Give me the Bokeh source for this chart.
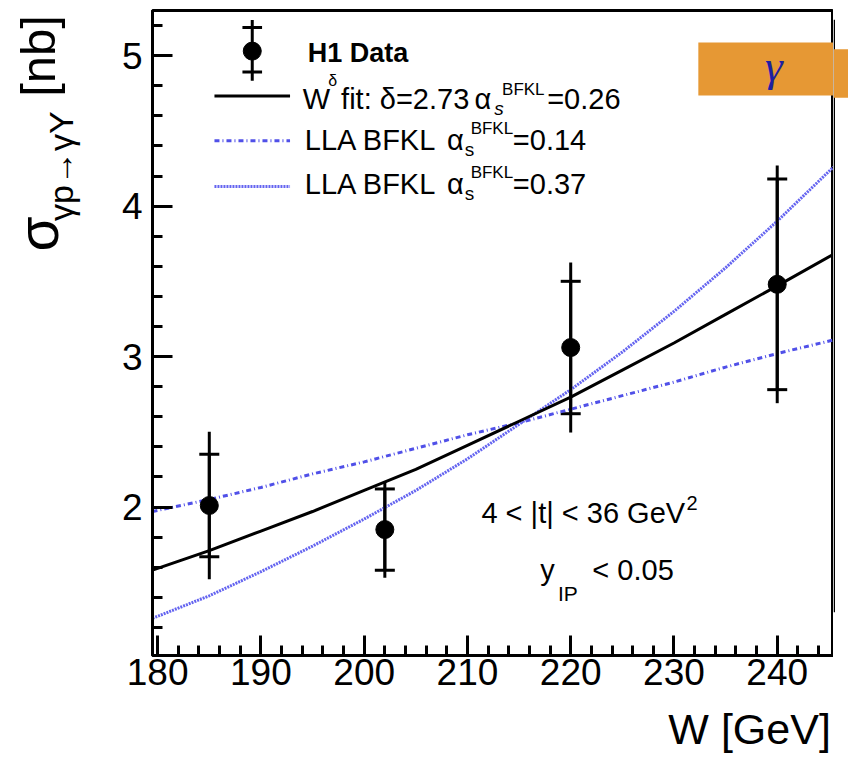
from math import pi
from bokeh.plotting import figure
from bokeh.layouts import row, column
from bokeh.models import (ColumnDataSource, Whisker, TeeHead, Label, BoxAnnotation,
                          SingleIntervalTicker, Range1d)
from bokeh.embed import file_html
from bokeh.resources import INLINE

# ---------------- data ----------------
W = [185, 202, 220, 240]
SIGMA = [2.01, 1.85, 3.06, 3.48]
STAT = [0.34, 0.27, 0.44, 0.70]
TOTAL = [0.49, 0.32, 0.565, 0.79]

CURVE_W = [179.5, 185, 190, 195, 200, 205, 210, 215, 220, 225, 230, 235, 240, 245.45]
FIT = [1.58, 1.71, 1.84, 1.97, 2.11, 2.25, 2.41, 2.57, 2.73, 2.91, 3.09, 3.28, 3.47, 3.68]
BFKL_014 = [1.97, 2.05, 2.13, 2.22, 2.30, 2.39, 2.48, 2.56, 2.65, 2.74, 2.83, 2.93, 3.02, 3.11]
BFKL_037 = [1.26, 1.41, 1.57, 1.74, 1.92, 2.11, 2.32, 2.55, 2.78, 3.03, 3.30, 3.59, 3.90, 4.26]

X_TICK_INTERVAL = 10
Y_TICK_INTERVAL = 1

# ---------------- layout ----------------
TOT_W, TOT_H = 848, 753
SX, SY = TOT_W / 864.0, TOT_H / 769.0      # reference-pixel -> page-pixel scale
LW = 88                                     # left strip (y title)
RW = 15                                     # right strip (tag overhang)
MW, MH = TOT_W - LW - RW, 702               # main figure
BH = TOT_H - MH                             # bottom strip (x title)
BL, BR, BT, BB = 152 - LW, 0, 10, 47
FL, FR, FT, FB = LW + BL, LW + MW - BR, BT, MH - BB
K_BASE = 0.33                               # baseline correction (fraction of font size)

X0, X1 = 179.5, 245.45
Y0, Y1 = 1.013, 5.30


def X(rx):
    return X0 + (rx * SX - FL) * (X1 - X0) / (FR - FL)


def Y(ry):
    return Y1 - (ry * SY - FT) * (Y1 - Y0) / (FB - FT)


def fs(size):
    return f"{round(size * SX)}px"


FONT = "Liberation Sans"
BLUE = "#5050e8"
BLUE2 = "#6464f0"
ORANGE = "#e69834"
DASHDOT = "5 3 1 3"
DOTTED = "2 1"

p = figure(width=MW, height=MH, x_range=Range1d(X0, X1), y_range=Range1d(Y0, Y1),
           output_backend="svg", toolbar_location=None,
           min_border_left=BL, min_border_right=BR, min_border_top=BT, min_border_bottom=BB)
p.xgrid.visible = False
p.ygrid.visible = False
p.outline_line_color = "black"
p.outline_line_width = 3
p.outline_line_alpha = 1.0
p.background_fill_color = "white"
p.border_fill_color = "white"

p.xaxis.ticker = SingleIntervalTicker(interval=X_TICK_INTERVAL, num_minor_ticks=5)
p.yaxis.ticker = SingleIntervalTicker(interval=Y_TICK_INTERVAL, num_minor_ticks=5)
for ax in (p.xaxis[0], p.yaxis[0]):
    ax.axis_line_width = 3
    ax.axis_line_color = "black"
    ax.major_tick_in = 20
    ax.major_tick_out = 0
    ax.minor_tick_in = 10
    ax.minor_tick_out = 0
    ax.major_tick_line_width = 3
    ax.minor_tick_line_width = 3
    ax.major_tick_line_color = "black"
    ax.minor_tick_line_color = "black"
    ax.major_label_text_font = FONT
    ax.major_label_text_font_size = fs(38)
    ax.major_label_text_color = "black"
p.xaxis.major_label_standoff = 3
p.yaxis.major_label_standoff = 10

# ---------------- curves ----------------
p.line(CURVE_W, BFKL_014, line_color=BLUE, line_width=3, line_dash=DASHDOT)
p.line(CURVE_W, BFKL_037, line_color=BLUE2, line_width=3, line_dash=DOTTED)
p.line(CURVE_W, FIT, line_color="black", line_width=3)

# ---------------- data points ----------------
src = ColumnDataSource(dict(
    w=W, s=SIGMA,
    tlo=[s - e for s, e in zip(SIGMA, TOTAL)], thi=[s + e for s, e in zip(SIGMA, TOTAL)],
    slo=[s - e for s, e in zip(SIGMA, STAT)], shi=[s + e for s, e in zip(SIGMA, STAT)],
))
p.segment(x0="w", y0="tlo", x1="w", y1="thi", source=src, line_color="black", line_width=3)
p.add_layout(Whisker(base="w", lower="slo", upper="shi", source=src, dimension="height",
                     line_color="black", line_width=3,
                     lower_head=TeeHead(size=20, line_width=3, line_color="black"),
                     upper_head=TeeHead(size=20, line_width=3, line_color="black")))
p.scatter(x="w", y="s", source=src, size=18, color="black")


# ---------------- text helper (reference pixel coords, rx/ry = baseline start) ----------------
def txt(fig, xf, yf, rx, ry, s, size, font=FONT, style="normal", color="black", align="left",
        angle=0.0, level="annotation"):
    if angle:
        rx = rx - K_BASE * size
    else:
        ry = ry - K_BASE * size
    fig.add_layout(Label(x=xf(rx), y=yf(ry), text=s, text_font=font, text_font_size=fs(size),
                         text_font_style=style, text_color=color, text_align=align,
                         text_baseline="alphabetic", angle=angle, level=level))


def mtxt(rx, ry, s, size, **kw):
    txt(p, X, Y, rx, ry, s, size, **kw)


# ---------------- legend ----------------
LEG_SX0, LEG_SX1, LEG_SXC = 218, 295, 256.5
ROWS = [51.7, 97.5, 143.3, 190.0]
p.segment(x0=[X(LEG_SXC)], y0=[Y(20)], x1=[X(LEG_SXC)], y1=[Y(82)], line_color="black", line_width=3)
p.segment(x0=[X(LEG_SXC - 10)] * 2, y0=[Y(27.5), Y(73)], x1=[X(LEG_SXC + 10)] * 2,
          y1=[Y(27.5), Y(73)], line_color="black", line_width=3)
p.scatter([X(LEG_SXC)], [Y(ROWS[0])], size=18, color="black")
p.segment(x0=[X(LEG_SX0)], y0=[Y(ROWS[1])], x1=[X(LEG_SX1)], y1=[Y(ROWS[1])],
          line_color="black", line_width=3)
p.segment(x0=[X(LEG_SX0)], y0=[Y(ROWS[2])], x1=[X(LEG_SX1)], y1=[Y(ROWS[2])], line_color=BLUE,
          line_width=3, line_dash=DASHDOT)
p.segment(x0=[X(LEG_SX0)], y0=[Y(ROWS[3])], x1=[X(LEG_SX1)], y1=[Y(ROWS[3])], line_color=BLUE2,
          line_width=3, line_dash=DOTTED)

mtxt(313, 63, "H1 Data", 28, style="bold")
# row 2
mtxt(308, 110, "W", 30)
mtxt(334, 87, "δ", 16)
mtxt(347, 110, "fit: δ=2.73", 30)
mtxt(483, 110, "α", 30)
mtxt(511, 97, "BFKL", 17)
mtxt(503, 117, "s", 19, style="italic")
mtxt(557, 110, "=0.26", 30)
# rows 3, 4
for base, val in ((152, "=0.14"), (197, "=0.37")):
    mtxt(310, base, "LLA BFKL", 30)
    mtxt(455, base, "α", 30)
    mtxt(479, base - 16, "BFKL", 17)
    mtxt(473, base + 6, "s", 19)
    mtxt(522, base, val, 30)

# ---------------- annotations ----------------
mtxt(490, 533, "4 < |t| < 36 GeV", 30)
mtxt(699, 520, "2", 20)
mtxt(550, 592, "y", 30)
mtxt(568, 613, "IP", 21)
mtxt(603, 592, "< 0.05", 30)

# ---------------- orange tag ----------------
TAG_TOP, TAG_BOTTOM, TAG_LEFT = 43, 97, 711
p.add_layout(BoxAnnotation(left=X(TAG_LEFT), right=X(880), top=Y(TAG_TOP), bottom=Y(TAG_BOTTOM),
                           fill_color=ORANGE, fill_alpha=1.0, line_color=None, level="overlay"))
mtxt(788, 82, "γ", 46, font="Liberation Serif", style="italic", color="#1f1fa0",
     align="center", level="overlay")


# ---------------- strips for axis titles ----------------
def strip(w, h):
    f = figure(width=w, height=h, x_range=Range1d(0, w), y_range=Range1d(0, h),
               min_border_left=0, min_border_right=0, min_border_top=0, min_border_bottom=0,
               x_axis_location=None, y_axis_location=None, toolbar_location=None,
               output_backend="svg")
    f.grid.visible = False
    f.outline_line_color = None
    f.background_fill_color = "white"
    f.border_fill_color = "white"
    return f


left = strip(LW, MH)
right = strip(RW, MH)
bottom = strip(TOT_W, BH)


def LXf(rx):
    return rx * SX


def LYf(ry):
    return MH - ry * SY


def BXf(rx):
    return rx * SX


def BYf(ry):
    return BH - (ry * SY - MH)


txt(left, LXf, LYf, 57, 268, "σ", 58, angle=pi / 2)
txt(left, LXf, LYf, 73, 234, "γp→γY", 35, angle=pi / 2)
txt(left, LXf, LYf, 55, 96, "[nb]", 50, angle=pi / 2)

txt(bottom, BXf, BYf, 846, 759, "W [GeV]", 44, align="right")

# right overhang: other half of the frame line and rest of the orange tag
right.add_layout(BoxAnnotation(left=0, right=1.5, top=MH - FT, bottom=MH - FB,
                               fill_color="black", fill_alpha=1.0, line_color=None))
right.add_layout(BoxAnnotation(left=0, right=RW, top=MH - TAG_TOP * SY, bottom=MH - TAG_BOTTOM * SY,
                               fill_color=ORANGE, fill_alpha=1.0, line_color=None, level="overlay"))

layout = column(row(left, p, right), bottom)
open("out.html", "w").write(file_html(layout, INLINE))
